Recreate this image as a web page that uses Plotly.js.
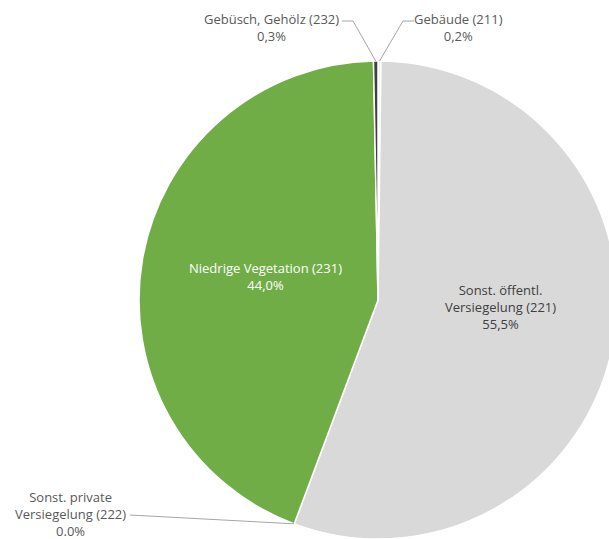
<!DOCTYPE html>
<html>
<head>
<meta charset="utf-8">
<script src="https://cdn.plot.ly/plotly-3.0.1.min.js"></script>
<style>
  html, body { margin: 0; padding: 0; overflow: hidden; background: #fff; }
  #chart { width: 756px; height: 600px; }
</style>
</head>
<body>
<div id="chart"></div>
<script>
// Land-use shares, ordered by code (clockwise from 12 o'clock)
const codes = ['211', '221', '222', '231', '232'];
const names = ['Gebäude', 'Sonst. öffentl. Versiegelung', 'Sonst. private Versiegelung', 'Niedrige Vegetation', 'Gebüsch, Gehölz'];
const shares = [0.2, 55.5, 0.0, 44.0, 0.3];
const decimalSep = [',', ',', '.', ',', ','];
const sliceColors = ['#F2F2F2', '#D9D9D9', '#A5A5A5', '#70AD47', '#3F3F3F'];

const W = 756, H = 600;
const cx = 378, cy = 300, R = 239;
const px = x => x / W;
const py = y => 1 - y / H;

function pctText(i) {
  return shares[i].toFixed(1).replace('.', decimalSep[i]) + '%';
}

// point on the rim at the middle of slice i
const total = shares.reduce((a, b) => a + b, 0);
function rimPoint(i) {
  let before = 0;
  for (let k = 0; k < i; k++) before += shares[k];
  const frac = (before + shares[i] / 2) / total;
  const a = frac * 2 * Math.PI;
  return [cx + R * Math.sin(a), cy - R * Math.cos(a)];
}

const trace = {
  type: 'pie',
  labels: names.map((n, i) => n + ' (' + codes[i] + ')'),
  values: shares,
  sort: false,
  direction: 'clockwise',
  rotation: 0,
  textinfo: 'none',
  hoverinfo: 'label+percent',
  marker: { colors: sliceColors, line: { color: '#FFFFFF', width: 1.5 } },
  domain: { x: [0, 1], y: [py(cy + R), py(cy - R)] }
};

const font = { family: 'Open Sans, sans-serif', size: 13 };
const outColor = '#595959';
function label(x, y, lines, color) {
  return {
    xref: 'paper', yref: 'paper', x: px(x), y: py(y),
    xanchor: 'center', yanchor: 'middle', showarrow: false,
    align: 'center', text: lines.join('<br>'),
    font: Object.assign({}, font, { color: color })
  };
}

const annotations = [
  label(271, 27, ['Gebüsch, Gehölz (' + codes[4] + ')', pctText(4)], outColor),
  label(459, 27, ['Gebäude (' + codes[0] + ')', pctText(0)], outColor),
  label(70, 514, ['Sonst. private', 'Versiegelung (' + codes[2] + ')', pctText(2)], outColor),
  label(265, 276, ['Niedrige Vegetation (' + codes[3] + ')', pctText(3)], '#FFFFFF'),
  label(500, 307, ['Sonst. öffentl.', 'Versiegelung (' + codes[1] + ')', pctText(1)], '#404040')
];

// leader lines from labels to the thin slices
function leader(points) {
  const d = points.map((p, k) => (k ? 'L' : 'M') + px(p[0]) + ',' + py(p[1])).join(' ');
  return { type: 'path', xref: 'paper', yref: 'paper', path: d,
           line: { color: '#A6A6A6', width: 1 } };
}
const shapes = [
  leader([[342, 21], [353, 21], rimPoint(4)]),
  leader([[414, 21], [403, 21], rimPoint(0)]),
  leader([[130, 515], rimPoint(2)])
];

const layout = {
  width: W, height: H,
  margin: { l: 0, r: 0, t: 0, b: 0 },
  paper_bgcolor: '#FFFFFF',
  showlegend: false,
  annotations: annotations,
  shapes: shapes
};

Plotly.newPlot('chart', [trace], layout, { displayModeBar: false, staticPlot: true });
</script>
</body>
</html>
